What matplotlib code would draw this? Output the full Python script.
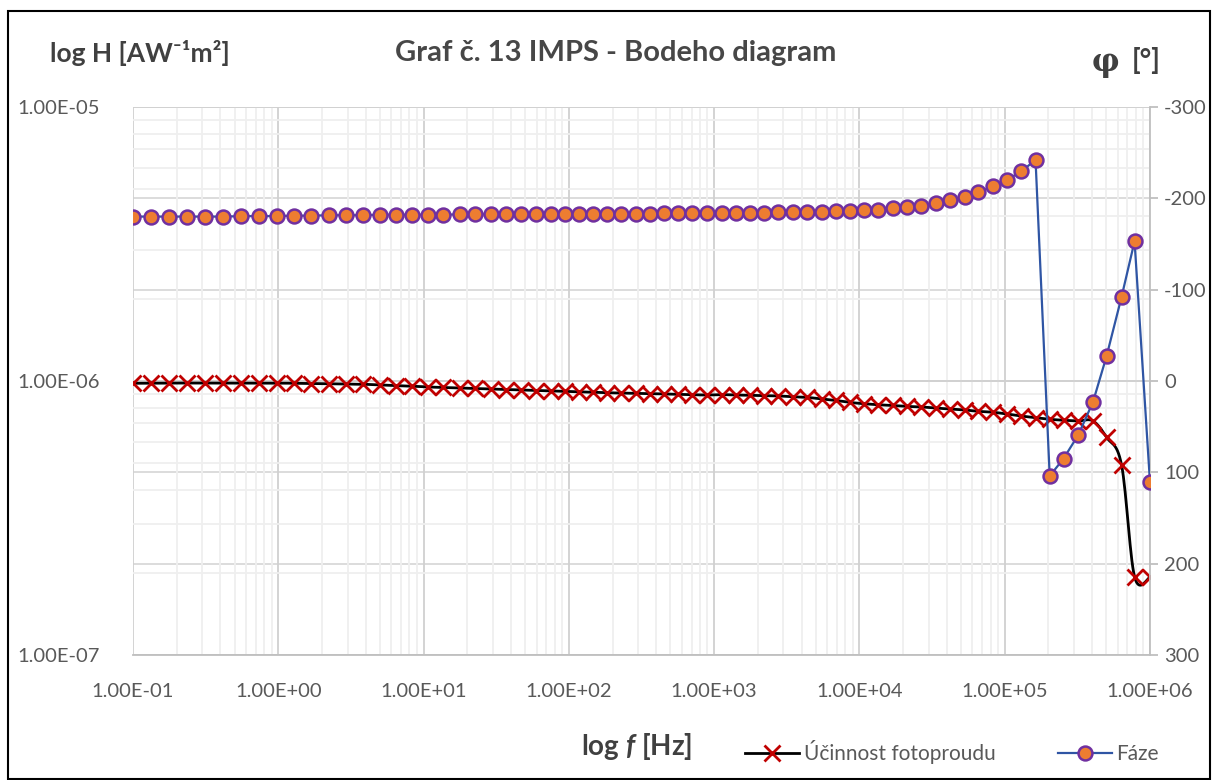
import numpy as np
import matplotlib
matplotlib.use('Agg')
import matplotlib.pyplot as plt
from matplotlib.ticker import FixedLocator, FixedFormatter, NullFormatter, LogLocator
from matplotlib.transforms import blended_transform_factory
from matplotlib.lines import Line2D
from matplotlib.patches import Rectangle

plt.rcParams['font.family'] = ['Lato', 'DejaVu Sans']
plt.rcParams['mathtext.fontset'] = 'custom'
plt.rcParams['mathtext.it'] = 'Lato:italic:bold'

# frekvence [Hz]
freq = [0.1, 0.133, 0.178, 0.237, 0.315, 0.418, 0.556, 0.736, 0.973,
        1.28, 1.69, 2.23, 2.94, 3.85, 4.98, 6.49, 8.39,
        10.8, 13.7, 17.7, 22.7, 28.9, 36.9, 46.6, 59.4, 74.8, 94.0,
        117, 147, 184, 230, 288, 361, 452, 564, 708, 893,
        1130, 1410, 1770, 2210, 2770, 3490, 4380, 5500, 6900, 8650,
        10800, 13500, 16900, 21200, 26700, 33400, 42000, 53200, 65800, 83000,
        103500, 130000, 163000, 204000, 254000, 321000, 405000, 502000,
        637000, 783000, 1000000]

# ucinnost fotoproudu H [A/W m2]
H = [9.81e-7, 9.82e-7, 9.83e-7, 9.83e-7, 9.83e-7, 9.83e-7, 9.83e-7, 9.83e-7, 9.83e-7,
     9.81e-7, 9.79e-7, 9.77e-7, 9.75e-7, 9.73e-7, 9.67e-7, 9.61e-7, 9.57e-7,
     9.51e-7, 9.47e-7, 9.43e-7, 9.39e-7, 9.35e-7, 9.31e-7, 9.27e-7, 9.23e-7, 9.19e-7, 9.16e-7,
     9.12e-7, 9.10e-7, 9.06e-7, 9.04e-7, 9.02e-7, 8.99e-7, 8.97e-7, 8.94e-7, 8.91e-7, 8.89e-7,
     8.92e-7, 8.89e-7, 8.87e-7, 8.84e-7, 8.82e-7, 8.76e-7, 8.71e-7, 8.60e-7, 8.49e-7, 8.35e-7,
     8.26e-7, 8.19e-7, 8.14e-7, 8.08e-7, 8.04e-7, 7.97e-7, 7.90e-7, 7.84e-7, 7.75e-7, 7.69e-7,
     7.58e-7, 7.45e-7, 7.35e-7, 7.25e-7, 7.19e-7, 7.15e-7, 7.15e-7, 6.23e-7,
     4.94e-7, 1.93e-7, 1.92e-7]

# faze [deg]
faze = [-180, -180, -180, -180, -180, -180, -180.5, -180.5, -180.5,
        -181, -181, -181.5, -181.5, -181.5, -182, -182, -182,
        -182, -182, -182.5, -182.5, -182.5, -182.5, -182.5, -182.5, -182.5, -182.5,
        -182.5, -182.5, -183, -183, -183, -183, -183.5, -183.5, -183.5, -184,
        -183.5, -184, -184, -184.2, -184.6, -184.6, -185.3, -185.3, -186, -186,
        -187, -187.7, -189.2, -190.4, -191.9, -194.8, -198, -202, -206.7, -213,
        -220.2, -229.5, -242, 104, 85, 59, 23,
        -27, -92, -153, 111]

xticks = [1e-1, 1e0, 1e1, 1e2, 1e3, 1e4, 1e5, 1e6]
xlabels = ['1.00E-01', '1.00E+00', '1.00E+01', '1.00E+02', '1.00E+03', '1.00E+04', '1.00E+05', '1.00E+06']
yticks = [1e-7, 1e-6, 1e-5]
ylabels = ['1.00E-07', '1.00E-06', '1.00E-05']
phase_ticks = [-300, -200, -100, 0, 100, 200, 300]

W, Hpx = 1219, 780
fig = plt.figure(figsize=(W / 100, Hpx / 100), dpi=100)
ax = fig.add_axes([133 / W, 1 - 655 / Hpx, (1150 - 133) / W, (655 - 107) / Hpx])
ax2 = ax.twinx()

ax.set_xscale('log')
ax.set_yscale('log')
ax.set_xlim(0.1, 1e6)
ax.set_ylim(1e-7, 1e-5)
ax2.set_ylim(300, -300)

# mrizka
ax.xaxis.set_major_locator(FixedLocator(xticks))
ax.xaxis.set_major_formatter(FixedFormatter(xlabels))
ax.xaxis.set_minor_locator(LogLocator(base=10, subs=np.arange(2, 10)))
ax.xaxis.set_minor_formatter(NullFormatter())
ax.yaxis.set_major_locator(FixedLocator(yticks))
ax.yaxis.set_major_formatter(FixedFormatter(ylabels))
ax.yaxis.set_minor_locator(LogLocator(base=10, subs=np.arange(2, 10)))
ax.yaxis.set_minor_formatter(NullFormatter())
ax.grid(which='major', color='#d0d0d0', lw=1.3, zorder=0)
ax.grid(which='minor', color='#efefef', lw=1.3, zorder=0)
ax.set_axisbelow(True)

tr = blended_transform_factory(ax.transAxes, ax2.transData)
for p in phase_ticks:
    ax.plot([0, 1], [p, p], transform=tr, color='#d9d9d9', lw=1.3, zorder=0.5)

ax2.set_yticks(phase_ticks)
ax2.set_yticklabels([str(p) for p in phase_ticks])

ax.tick_params(axis='both', which='both', length=0, labelsize=14.5, labelcolor='#595959')
ax.tick_params(axis='x', pad=20)
ax.tick_params(axis='y', pad=24)
ax2.tick_params(axis='y', length=6, width=1.3, color='#bfbfbf', labelsize=14.5,
                labelcolor='#595959', pad=4)

for s in ['top', 'left', 'right']:
    ax.spines[s].set_visible(False)
    ax2.spines[s].set_visible(False)
ax.spines['bottom'].set_color('#bfbfbf')
ax.spines['bottom'].set_linewidth(1.3)
ax2.spines['bottom'].set_visible(False)
ax2.spines['right'].set_visible(True)
ax2.spines['right'].set_color('#bfbfbf')
ax2.spines['right'].set_linewidth(1.3)

# vyhlazena krivka (Catmull-Rom v log-log)
u = np.log10(freq)
v = np.log10(H)
uu, vv = [], []
n = len(u)
t = np.linspace(0, 1, 16)
for i in range(n - 1):
    p0 = (u[max(i - 1, 0)], v[max(i - 1, 0)])
    p1 = (u[i], v[i])
    p2 = (u[i + 1], v[i + 1])
    p3 = (u[min(i + 2, n - 1)], v[min(i + 2, n - 1)])
    b1 = (p1[0] + (p2[0] - p0[0]) / 6, p1[1] + (p2[1] - p0[1]) / 6)
    b2 = (p2[0] - (p3[0] - p1[0]) / 6, p2[1] - (p3[1] - p1[1]) / 6)
    bu = (1 - t) ** 3 * p1[0] + 3 * (1 - t) ** 2 * t * b1[0] + 3 * (1 - t) * t ** 2 * b2[0] + t ** 3 * p2[0]
    bv = (1 - t) ** 3 * p1[1] + 3 * (1 - t) ** 2 * t * b1[1] + 3 * (1 - t) * t ** 2 * b2[1] + t ** 3 * p2[1]
    uu.extend(bu)
    vv.extend(bv)

ax.plot(10 ** np.array(uu), 10 ** np.array(vv), color='black', lw=2, zorder=3)
ax.plot(freq, H, ls='none', marker='x', ms=11, mew=2, color='#c00000', zorder=4)

ax2.plot(freq, faze, color='#2f55a4', lw=1.6, marker='o', ms=10,
         mfc='#ed7d31', mec='#7030a0', mew=1.8, zorder=5)

# texty
def fx(x):
    return x / W

def fy(y):
    return 1 - y / Hpx

fig.text(fx(50), fy(53), 'log H [AW⁻¹m²]', fontsize=19, fontweight='bold',
         color='#404040', ha='left', va='center')
fig.text(fx(616), fy(53), 'Graf č. 13 IMPS - Bodeho diagram', fontsize=21,
         fontweight='bold', color='#474747', ha='center', va='center')
fig.text(fx(1105), fy(62), 'φ', fontsize=22, fontweight='bold',
         family='DejaVu Serif', color='#404040', ha='center', va='center')
fig.text(fx(1146), fy(60), '[°]', fontsize=20, fontweight='bold',
         color='#404040', ha='center', va='center')
fig.text(fx(637), fy(747), r'log $\mathit{f}$ [Hz]', fontsize=20, fontweight='bold',
         color='#404040', ha='center', va='center')

h1 = Line2D([], [], color='black', lw=2, marker='x', ms=11, mew=2, mec='#c00000')
h2 = Line2D([], [], color='#2f55a4', lw=1.6, marker='o', ms=10,
            mfc='#ed7d31', mec='#7030a0', mew=1.8)
fig.legend([h1, h2], ['Účinnost fotoproudu', 'Fáze'], loc='center',
           bbox_to_anchor=(fx(952), fy(752)), ncol=2, frameon=False,
           fontsize=15, handlelength=2.6, columnspacing=3.0, handletextpad=0.2,
           labelcolor='#595959')

fig.patches.append(Rectangle((fx(8), fy(779)), fx(1210) - fx(8), fy(11) - fy(779),
                             transform=fig.transFigure, fill=False, ec='black', lw=1.5))

fig.savefig('out.png', dpi=100)
